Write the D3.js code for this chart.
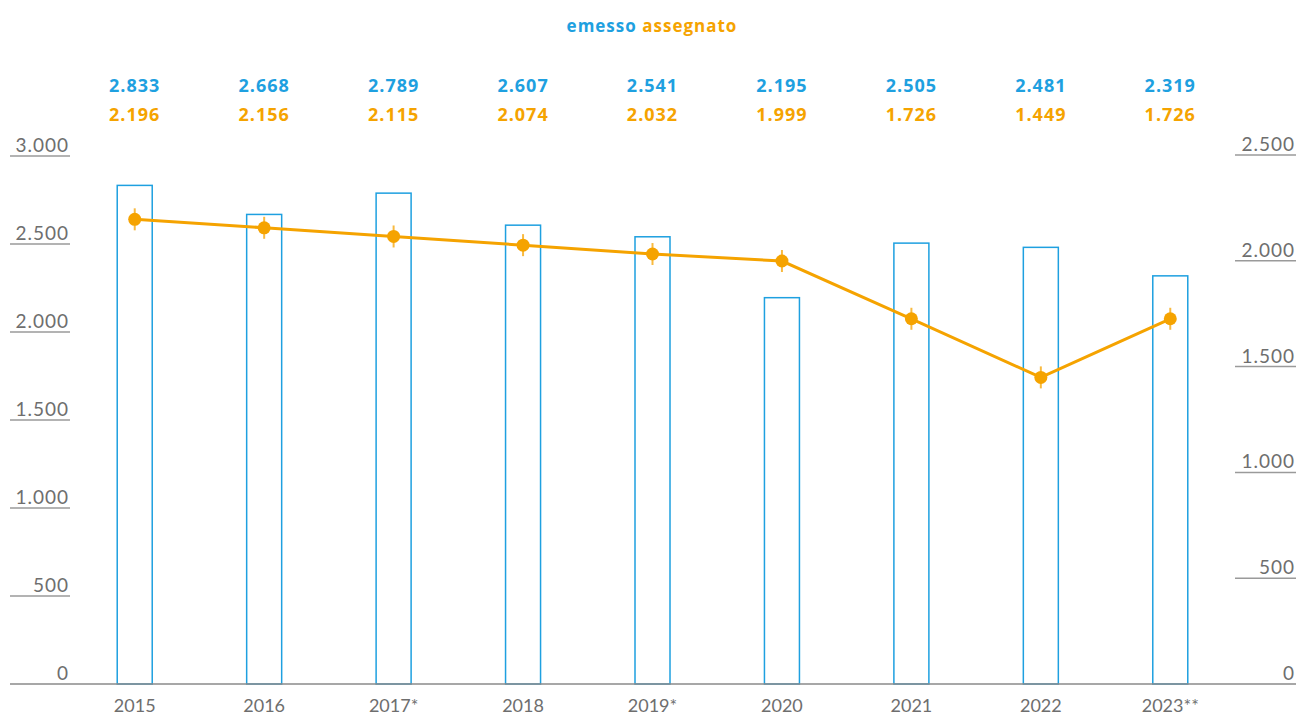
<!DOCTYPE html>
<html>
<head>
<meta charset="utf-8">
<script src="https://cdn.jsdelivr.net/npm/d3@7"></script>
<style>
  body { margin: 0; background: #fff; }
  svg text { font-family: "Lato", "Open Sans", sans-serif; }
  svg text.bold { font-family: "Open Sans", sans-serif; font-weight: 700; letter-spacing: 1px; }
</style>
</head>
<body>
<svg id="chart"></svg>
<script>
const years = ["2015", "2016", "2017*", "2018", "2019*", "2020", "2021", "2022", "2023**"];
const emesso = [2833, 2668, 2789, 2607, 2541, 2195, 2505, 2481, 2319];
const assegnato = [2196, 2156, 2115, 2074, 2032, 1999, 1726, 1449, 1726];
const leftTicks = [0, 500, 1000, 1500, 2000, 2500, 3000];
const rightTicks = [0, 500, 1000, 1500, 2000, 2500];

const width = 1297, height = 716;
const blue = "#1ea0e0", orange = "#f5a300", grey = "#6e6e6e";
const it = d3.formatLocale({ decimal: ",", thousands: ".", grouping: [3], currency: ["€", ""] });
const fmt = it.format(",d");

const svg = d3.select("#chart").attr("width", width).attr("height", height);

const x = d3.scalePoint().domain(years).range([70, 1235]).padding(0.5);
const yL = d3.scaleLinear().domain([0, 3000]).range([684, 156]);
const yR = d3.scaleLinear().domain([0, 2500]).range([684, 155]);

// title
const title = svg.append("text").attr("class", "bold")
    .attr("x", 652).attr("y", 32)
    .attr("text-anchor", "middle")
    .attr("font-size", "17px");
title.append("tspan").attr("fill", blue).text("emesso ");
title.append("tspan").attr("fill", orange).text("assegnato");

// left axis
const gl = svg.append("g");
gl.selectAll("line").data(leftTicks.filter(d => d > 0)).enter().append("line")
    .attr("x1", 10).attr("x2", 70)
    .attr("y1", d => yL(d)).attr("y2", d => yL(d))
    .attr("stroke", "#9a9a9a").attr("stroke-width", 1.5);
gl.selectAll("text").data(leftTicks).enter().append("text")
    .attr("x", 69).attr("y", d => yL(d) - 4)
    .attr("text-anchor", "end")
    .attr("font-size", "19px").attr("fill", grey)
    .attr("letter-spacing", "1px")
    .text(d => fmt(d));

// right axis
const gr = svg.append("g");
gr.selectAll("line").data(rightTicks.filter(d => d > 0)).enter().append("line")
    .attr("x1", 1235).attr("x2", 1296)
    .attr("y1", d => yR(d)).attr("y2", d => yR(d))
    .attr("stroke", "#9a9a9a").attr("stroke-width", 1.5);
gr.selectAll("text").data(rightTicks).enter().append("text")
    .attr("x", 1295).attr("y", d => yR(d) - 4)
    .attr("text-anchor", "end")
    .attr("font-size", "19px").attr("fill", grey)
    .attr("letter-spacing", "1px")
    .text(d => fmt(d));

// bars
const bw = 35;
svg.append("g").selectAll("rect").data(emesso).enter().append("rect")
    .attr("x", (d, i) => x(years[i]) - bw / 2)
    .attr("y", d => yL(d))
    .attr("width", bw)
    .attr("height", d => yL(0) - yL(d))
    .attr("fill", "#fff")
    .attr("stroke", blue).attr("stroke-width", 1.5);

// baseline
svg.append("line")
    .attr("x1", 10).attr("x2", 1296)
    .attr("y1", yL(0)).attr("y2", yL(0))
    .attr("stroke", "#8a8a8a").attr("stroke-width", 1.5);

// x labels
svg.append("g").selectAll("text").data(years).enter().append("text")
    .attr("x", d => x(d)).attr("y", 712)
    .attr("text-anchor", "middle")
    .attr("font-size", "18px").attr("fill", grey)
    .text(d => d);

// line
const line = d3.line().x((d, i) => x(years[i])).y(d => yR(d));
svg.append("path").datum(assegnato)
    .attr("d", line)
    .attr("fill", "none")
    .attr("stroke", orange).attr("stroke-width", 3);

const pts = svg.append("g").selectAll("g").data(assegnato).enter().append("g")
    .attr("transform", (d, i) => `translate(${x(years[i])},${yR(d)})`);
pts.append("line")
    .attr("y1", -11).attr("y2", 11)
    .attr("stroke", orange).attr("stroke-opacity", 0.75).attr("stroke-width", 2);
pts.append("circle").attr("r", 6.5).attr("fill", orange);

// value labels
svg.append("g").selectAll("text").data(emesso).enter().append("text")
    .attr("class", "bold")
    .attr("x", (d, i) => x(years[i])).attr("y", 92)
    .attr("text-anchor", "middle")
    .attr("font-size", "18px").attr("fill", blue)
    .text(d => fmt(d));
svg.append("g").selectAll("text").data(assegnato).enter().append("text")
    .attr("class", "bold")
    .attr("x", (d, i) => x(years[i])).attr("y", 121)
    .attr("text-anchor", "middle")
    .attr("font-size", "18px").attr("fill", orange)
    .text(d => fmt(d));
</script>
</body>
</html>
